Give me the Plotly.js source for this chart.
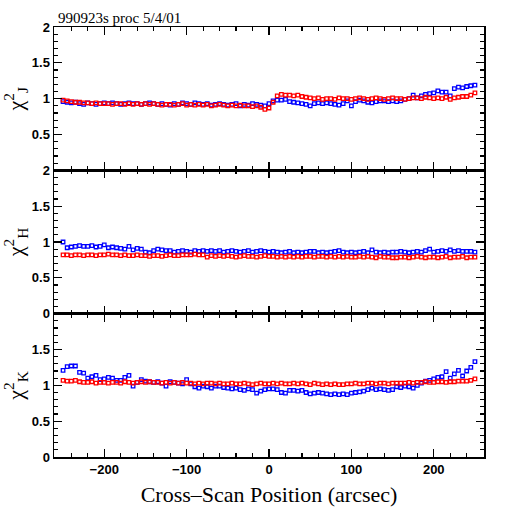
<!DOCTYPE html>
<html>
<head>
<meta charset="utf-8">
<script src="https://cdn.plot.ly/plotly-3.0.1.min.js"></script>
<style>html,body{margin:0;padding:0;background:#fff;}#chart{width:512px;height:512px;}</style>
</head>
<body>
<div id="chart"></div>
<script>
const position = [-250,-245,-240,-235,-230,-225,-220,-215,-210,-205,-200,
-195,-190,-185,-180,-175,-170,-165,-160,-155,-150,
-145,-140,-135,-130,-125,-120,-115,-110,-105,-100,
-95,-90,-85,-80,-75,-70,-65,-60,-55,-50,
-45,-40,-35,-30,-25,-20,-15,-10,-5,0,
5,10,15,20,25,30,35,40,45,50,
55,60,65,70,75,80,85,90,95,100,
105,110,115,120,125,130,135,140,145,150,
155,160,165,170,175,180,185,190,195,200,
205,210,215,220,225,230,235,240,245,250];

const chiJ_blue = [0.96,0.95,0.94,0.95,0.93,0.92,0.94,0.93,0.92,0.93,0.94,
0.93,0.94,0.93,0.92,0.93,0.94,0.93,0.93,0.92,0.93,
0.94,0.93,0.92,0.93,0.92,0.91,0.93,0.92,0.94,0.93,
0.92,0.94,0.93,0.92,0.93,0.91,0.92,0.93,0.92,0.91,
0.92,0.93,0.90,0.92,0.91,0.93,0.92,0.91,0.90,0.93,
0.97,0.98,0.98,0.99,0.96,0.95,0.94,0.93,0.92,0.90,
0.93,0.94,0.93,0.94,0.93,0.92,0.91,0.93,0.97,0.90,
0.96,0.98,0.97,0.95,0.94,0.96,0.97,0.97,0.96,0.97,
0.96,0.97,0.99,1.00,1.05,1.01,1.04,1.06,1.07,1.08,
1.11,1.09,1.09,1.04,1.14,1.16,1.15,1.17,1.18,1.19];

const chiJ_red = [0.98,0.97,0.96,0.95,0.95,0.94,0.94,0.93,0.94,0.93,0.93,
0.93,0.92,0.93,0.93,0.92,0.93,0.92,0.93,0.92,0.93,
0.92,0.93,0.92,0.91,0.92,0.92,0.91,0.92,0.93,0.91,
0.92,0.91,0.92,0.91,0.92,0.90,0.91,0.92,0.91,0.90,
0.91,0.90,0.91,0.90,0.90,0.89,0.90,0.88,0.85,0.87,
0.95,1.04,1.06,1.05,1.05,1.04,1.05,1.03,1.02,1.01,
1.00,1.01,0.99,1.00,1.00,0.99,1.01,1.00,1.00,0.99,
1.00,1.01,1.00,0.99,1.00,1.01,1.00,0.99,1.00,1.01,
1.00,1.00,0.99,1.00,1.01,1.01,1.00,1.02,1.01,1.00,
1.01,1.00,1.02,0.99,1.01,1.02,1.03,1.03,1.05,1.08];

const chiH_blue = [1.00,0.92,0.93,0.94,0.95,0.94,0.94,0.95,0.93,0.94,0.96,
0.92,0.93,0.92,0.91,0.90,0.94,0.89,0.91,0.90,0.86,
0.85,0.88,0.90,0.89,0.88,0.88,0.86,0.87,0.88,0.87,
0.86,0.88,0.87,0.88,0.87,0.88,0.87,0.88,0.86,0.87,
0.88,0.87,0.86,0.87,0.88,0.86,0.87,0.88,0.87,0.86,
0.87,0.86,0.85,0.86,0.87,0.85,0.86,0.85,0.86,0.87,
0.87,0.85,0.86,0.85,0.86,0.87,0.88,0.86,0.85,0.86,
0.85,0.86,0.87,0.85,0.89,0.86,0.85,0.86,0.85,0.86,
0.86,0.87,0.86,0.85,0.86,0.87,0.86,0.88,0.90,0.86,
0.87,0.88,0.87,0.89,0.87,0.88,0.87,0.87,0.87,0.86];

const chiH_red = [0.82,0.82,0.81,0.82,0.82,0.81,0.82,0.82,0.81,0.82,0.82,
0.83,0.82,0.82,0.81,0.82,0.81,0.81,0.82,0.81,0.81,
0.80,0.81,0.81,0.80,0.81,0.82,0.81,0.81,0.82,0.82,
0.82,0.83,0.82,0.82,0.79,0.81,0.80,0.81,0.80,0.81,
0.80,0.79,0.80,0.81,0.80,0.80,0.79,0.80,0.81,0.80,
0.80,0.79,0.80,0.79,0.80,0.79,0.80,0.79,0.80,0.80,
0.79,0.80,0.80,0.79,0.80,0.79,0.80,0.79,0.80,0.79,
0.79,0.80,0.79,0.80,0.79,0.78,0.80,0.79,0.79,0.78,
0.78,0.79,0.79,0.78,0.79,0.80,0.79,0.78,0.79,0.79,
0.78,0.79,0.80,0.78,0.79,0.79,0.80,0.78,0.79,0.79];

const chiK_blue = [1.21,1.26,1.27,1.27,1.18,1.17,1.10,1.12,1.14,1.08,1.09,
1.11,1.10,1.07,1.07,1.11,1.14,0.99,1.04,1.08,1.06,
1.05,1.04,1.05,1.03,0.99,1.05,1.04,1.03,1.02,1.08,
1.02,0.98,0.96,0.99,0.98,0.96,0.99,0.99,0.97,0.96,
0.95,0.96,0.94,0.93,0.95,0.94,0.89,0.92,0.94,0.95,
0.95,0.94,0.90,0.89,0.93,0.93,0.92,0.93,0.90,0.88,
0.89,0.90,0.89,0.88,0.87,0.88,0.87,0.88,0.87,0.89,
0.90,0.91,0.92,0.94,0.96,0.94,0.95,0.94,0.93,0.94,
0.98,0.97,0.99,0.98,0.96,1.00,1.03,1.06,1.07,1.09,
1.11,1.12,1.19,1.10,1.16,1.21,1.13,1.20,1.25,1.33];

const chiK_red = [1.07,1.06,1.06,1.07,1.05,1.04,1.04,1.05,1.03,1.04,1.04,
1.03,1.04,1.04,1.03,1.05,1.04,1.03,1.04,1.05,1.04,
1.05,1.04,1.04,1.03,1.04,1.03,1.04,1.03,1.04,1.03,
1.03,1.02,1.03,1.02,1.03,1.03,1.02,1.03,1.02,1.02,
1.03,1.02,1.02,1.03,1.02,1.01,1.02,1.03,1.02,1.02,
1.03,1.02,1.03,1.02,1.02,1.03,1.02,1.03,1.02,1.01,
1.03,1.02,1.01,1.02,1.01,1.02,1.01,1.01,1.02,1.02,
1.03,1.02,1.02,1.03,1.03,1.02,1.03,1.03,1.02,1.03,
1.03,1.03,1.03,1.04,1.03,1.04,1.04,1.05,1.04,1.04,
1.05,1.05,1.04,1.05,1.05,1.06,1.06,1.06,1.07,1.09];

const xTickVals = [-200,-100,0,100,200];
const yTickValsTop = [0.5,1,1.5,2];
const yTickTextTop = ['0.5','1','1.5','2'];
const yTickValsMid = [0,0.5,1,1.5,2];
const yTickTextMid = ['0','0.5','1','1.5','2'];
const yTickValsBot = [0,0.5,1,1.5];
const yTickTextBot = ['0','0.5','1','1.5'];
const plotTitle = '990923s proc 5/4/01';
const xTitle = 'Cross\u2013Scan Position (arcsec)';
const yTitles = ['\u03C7<sup>2</sup><sub>J</sub>','\u03C7<sup>2</sup><sub>H</sub>','\u03C7<sup>2</sup><sub>K</sub>'];

function mk(y, color, xa, ya){
  return {x: position, y: y, xaxis: xa, yaxis: ya, type:'scatter', mode:'markers',
    marker:{symbol:'square-open', size:3.5, color:color, line:{color:color, width:1.3}},
    hoverinfo:'skip', showlegend:false};
}

const data = [
  mk(chiJ_blue,'#0000ff','x','y'), mk(chiJ_red,'#ff0000','x','y'),
  mk(chiH_blue,'#0000ff','x2','y2'), mk(chiH_red,'#ff0000','x2','y2'),
  mk(chiK_blue,'#0000ff','x3','y3'), mk(chiK_red,'#ff0000','x3','y3')
];

const tickFont = {family:'Liberation Sans, Arial, sans-serif', size:13, color:'#000', weight:'bold'};
function xax(anchor, showLabels){
  return {anchor:anchor, range:[-261,261], tickvals:xTickVals, ticks:'inside', ticklen:8, tickwidth:1.2,
    tickcolor:'#000', showline:true, linecolor:'#000', linewidth:1.5, mirror:'allticks',
    showgrid:false, zeroline:false, showticklabels:showLabels, tickfont:tickFont,
    minor:{ticks:'inside', dtick:20, tick0:0, ticklen:4, tickwidth:1.2, tickcolor:'#000', showgrid:false}};
}
function yax(anchor, domain, vals, text, title){
  return {anchor:anchor, domain:domain, range:[0,2], tickvals:vals, ticktext:text, ticks:'inside', ticklen:8,
    tickwidth:1.2, tickcolor:'#000', showline:true, linecolor:'#000', linewidth:1.5, mirror:'allticks',
    showgrid:false, zeroline:false, tickfont:tickFont,
    minor:{ticks:'inside', dtick:0.1, tick0:0, ticklen:4, tickwidth:1.2, tickcolor:'#000', showgrid:false},
    title:{text:title, standoff:8, font:{family:'Liberation Serif, serif', size:22, color:'#000'}}};
}

const layout = {
  width:512, height:512,
  margin:{l:54, r:28, t:27, b:55},
  paper_bgcolor:'#fff', plot_bgcolor:'#fff',
  xaxis: xax('y', false),
  xaxis2: xax('y2', false),
  xaxis3: Object.assign(xax('y3', true), {title:{text:xTitle, standoff:10, font:{family:'Liberation Serif, serif', size:22, color:'#000'}}}),
  yaxis: yax('x', [2/3,1], yTickValsTop, yTickTextTop, yTitles[0]),
  yaxis2: yax('x2', [1/3,2/3], yTickValsMid, yTickTextMid, yTitles[1]),
  yaxis3: yax('x3', [0,1/3], yTickValsBot, yTickTextBot, yTitles[2]),
  annotations:[{text:plotTitle, xref:'paper', yref:'paper', x:0, y:1, xanchor:'left', yanchor:'bottom',
    showarrow:false, xshift:2, yshift:-1, font:{family:'Liberation Serif, serif', size:15, color:'#000'}}]
};

Plotly.newPlot('chart', data, layout, {staticPlot:true, displayModeBar:false});
</script>
</body>
</html>
